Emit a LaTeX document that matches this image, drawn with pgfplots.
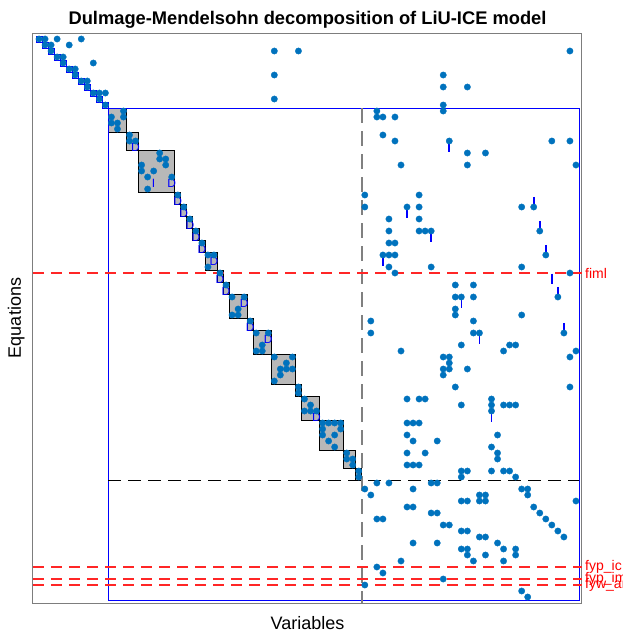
\documentclass[border=0pt]{standalone}
\usepackage{pgfplots}
\pgfplotsset{compat=1.18}
\usepackage{fontspec}
\setmainfont{Liberation Sans}
\definecolor{dotc}{RGB}{0,114,189}
\definecolor{blkfill}{RGB}{184,184,184}
\definecolor{framec}{RGB}{125,125,125}
\pgfplotstableread{
c r
0 40
91 40
}\faultA
\pgfplotstableread{
c r
0 89
91 89
}\faultB
\pgfplotstableread{
c r
0 91
91 91
}\faultC
\pgfplotstableread{
c r
0 92
91 92
}\faultD
\begin{document}
\begin{tikzpicture}[
  blk/.style={draw=black, line width=0.8pt, fill=blkfill},
  sq/.style={draw=blue, line width=0.8pt, fill=none},
  tk/.style={draw=blue, line width=1.6pt},
  dl/.style={text=blue, font=\fontsize{12}{12}\selectfont, inner sep=0pt},
  fl/.style={anchor=west, text=red, font=\fontsize{14}{14}\selectfont, inner sep=0pt},
]
\begin{axis}[
  at={(0,0)}, anchor=south west,
  width=549pt, height=570pt, scale only axis,
  xmin=0, xmax=91, ymin=0, ymax=95, y dir=reverse,
  xtick=\empty, ytick=\empty,
  axis line style={draw=framec, line width=1pt},
  clip=false,
]
% just-determined blocks
\addplot[blk] coordinates {(12.5,12.5)(15.5,12.5)(15.5,16.5)(12.5,16.5)} --cycle;
\addplot[blk] coordinates {(15.5,16.5)(17.5,16.5)(17.5,19.5)(15.5,19.5)} --cycle;
\addplot[blk] coordinates {(17.5,19.5)(23.5,19.5)(23.5,26.5)(17.5,26.5)} --cycle;
\addplot[blk] coordinates {(23.5,26.5)(24.5,26.5)(24.5,28.5)(23.5,28.5)} --cycle;
\addplot[blk] coordinates {(24.5,28.5)(25.5,28.5)(25.5,30.5)(24.5,30.5)} --cycle;
\addplot[blk] coordinates {(25.5,30.5)(26.5,30.5)(26.5,32.5)(25.5,32.5)} --cycle;
\addplot[blk] coordinates {(26.5,32.5)(27.5,32.5)(27.5,34.5)(26.5,34.5)} --cycle;
\addplot[blk] coordinates {(27.5,34.5)(28.5,34.5)(28.5,36.5)(27.5,36.5)} --cycle;
\addplot[blk] coordinates {(28.5,36.5)(30.5,36.5)(30.5,39.5)(28.5,39.5)} --cycle;
\addplot[blk] coordinates {(30.5,39.5)(31.5,39.5)(31.5,41.5)(30.5,41.5)} --cycle;
\addplot[blk] coordinates {(31.5,41.5)(32.5,41.5)(32.5,43.5)(31.5,43.5)} --cycle;
\addplot[blk] coordinates {(32.5,43.5)(35.5,43.5)(35.5,47.5)(32.5,47.5)} --cycle;
\addplot[blk] coordinates {(35.5,47.5)(36.5,47.5)(36.5,49.5)(35.5,49.5)} --cycle;
\addplot[blk] coordinates {(36.5,49.5)(39.5,49.5)(39.5,53.5)(36.5,53.5)} --cycle;
\addplot[blk] coordinates {(39.5,53.5)(43.5,53.5)(43.5,58.5)(39.5,58.5)} --cycle;
\addplot[blk] coordinates {(43.5,58.5)(44.5,58.5)(44.5,60.5)(43.5,60.5)} --cycle;
\addplot[blk] coordinates {(44.5,60.5)(47.5,60.5)(47.5,64.5)(44.5,64.5)} --cycle;
\addplot[blk] coordinates {(47.5,64.5)(51.5,64.5)(51.5,69.5)(47.5,69.5)} --cycle;
\addplot[blk] coordinates {(51.5,69.5)(53.5,69.5)(53.5,72.5)(51.5,72.5)} --cycle;
\addplot[blk] coordinates {(53.5,72.5)(54.5,72.5)(54.5,74.5)(53.5,74.5)} --cycle;
% 1x1 blocks of the upper left part
\addplot[sq] coordinates {(0.5,0.5)(1.5,0.5)(1.5,1.5)(0.5,1.5)} --cycle;
\addplot[sq] coordinates {(1.5,1.5)(2.5,1.5)(2.5,2.5)(1.5,2.5)} --cycle;
\addplot[sq] coordinates {(2.5,2.5)(3.5,2.5)(3.5,3.5)(2.5,3.5)} --cycle;
\addplot[sq] coordinates {(3.5,3.5)(4.5,3.5)(4.5,4.5)(3.5,4.5)} --cycle;
\addplot[sq] coordinates {(4.5,4.5)(5.5,4.5)(5.5,5.5)(4.5,5.5)} --cycle;
\addplot[sq] coordinates {(5.5,5.5)(6.5,5.5)(6.5,6.5)(5.5,6.5)} --cycle;
\addplot[sq] coordinates {(6.5,6.5)(7.5,6.5)(7.5,7.5)(6.5,7.5)} --cycle;
\addplot[sq] coordinates {(7.5,7.5)(8.5,7.5)(8.5,8.5)(7.5,8.5)} --cycle;
\addplot[sq] coordinates {(8.5,8.5)(9.5,8.5)(9.5,9.5)(8.5,9.5)} --cycle;
\addplot[sq] coordinates {(9.5,9.5)(10.5,9.5)(10.5,10.5)(9.5,10.5)} --cycle;
\addplot[sq] coordinates {(10.5,10.5)(11.5,10.5)(11.5,11.5)(10.5,11.5)} --cycle;
\addplot[sq] coordinates {(11.5,11.5)(12.5,11.5)(12.5,12.5)(11.5,12.5)} --cycle;
% overdetermined part frame and separators
\addplot[draw=blue, line width=0.8pt] coordinates {(12.5,12.5)(90.5,12.5)(90.5,94.5)(12.5,94.5)} --cycle;
\addplot[draw=black, line width=1pt, dash pattern=on 13pt off 7pt] coordinates {(12.5,74.5)(90.5,74.5)};
\addplot[draw=black!50, line width=1.8pt, dash pattern=on 15pt off 8pt] coordinates {(54.5,12.5)(54.5,95)};
% differential constraint markers
\addplot[tk] coordinates {(69,18)(69,19.8)};
\addplot[tk] coordinates {(62,29)(62,30.9)};
\addplot[tk] coordinates {(66,33)(66,34.9)};
\addplot[tk] coordinates {(58,37)(58,38.9)};
\addplot[tk] coordinates {(71,44)(71,45.9)};
\addplot[tk] coordinates {(74,50)(74,51.9)};
\addplot[tk] coordinates {(76,63)(76,64.9)};
\addplot[tk] coordinates {(83,27.3)(83,29)};
\addplot[tk] coordinates {(84,31.3)(84,33)};
\addplot[tk] coordinates {(85,35.3)(85,37)};
\addplot[tk] coordinates {(86,40.1)(86,41.9)};
\addplot[tk] coordinates {(87,42.3)(87,44)};
\addplot[tk] coordinates {(88,48.3)(88,50)};
% fault equations
\addplot[red!85, mark=none, line width=1.2pt, dash pattern=on 11pt off 7pt] table[x=c, y=r] {\faultA};
\addplot[red!85, mark=none, line width=1.2pt, dash pattern=on 11pt off 7pt] table[x=c, y=r] {\faultB};
\addplot[red!85, mark=none, line width=1.2pt, dash pattern=on 11pt off 7pt] table[x=c, y=r] {\faultC};
\addplot[red!85, mark=none, line width=1.2pt, dash pattern=on 11pt off 7pt] table[x=c, y=r] {\faultD};
% structure (column = variable, row = equation)
\addplot[color=dotc, only marks, mark=*, mark size=3.2pt, mark options={draw=dotc, fill=dotc, line width=0.3pt}] coordinates {
(1,1)(2,1)(4,1)(8,1)
(2,2)(3,2)(6,2)
(3,3)(40,3)(44,3)(89,3)
(4,4)(5,4)
(5,5)(10,5)
(6,6)(7,6)
(7,7)(40,7)(68,7)
(8,8)(9,8)
(9,9)(68,9)(72,9)
(10,10)(11,10)(12,10)
(11,11)(40,11)
(12,12)(68,12)
(15,13)(57,13)(68,13)
(13,14)(15,14)(57,14)(58,14)(60,14)
(13,15)(14,15)
(14,16)
(16,17)(58,17)
(16,18)(17,18)(60,18)(69,18)(86,18)(89,18)
(21,20)(72,20)(75,20)
(21,21)(22,21)
(18,22)(22,22)(61,22)(72,22)(90,22)
(18,23)(20,23)
(19,24)(23,24)
(19,26)
(24,27)(55,27)(64,27)
(25,29)(55,29)(62,29)(64,29)(81,29)(83,29)
(26,31)(59,31)(64,31)
(27,33)(59,33)(64,33)(65,33)(66,33)(84,33)
(28,35)(59,35)(60,35)
(29,37)(30,37)(58,37)(59,37)(60,37)(85,37)
(29,39)(59,39)(66,39)(81,39)
(31,40)(60,40)(89,40)
(32,42)(70,42)(73,42)
(33,44)(35,44)(70,44)(71,44)(73,44)(87,44)
(34,46)(70,46)
(33,47)(34,47)(70,47)(81,47)
(36,48)(56,48)(73,48)
(37,50)(39,50)(56,50)(73,50)(74,50)(88,50)
(38,52)(71,52)(79,52)(80,52)
(37,53)(38,53)(61,53)(78,53)(90,53)
(40,54)(43,54)(68,54)(69,54)(89,54)
(42,55)(69,55)
(41,56)(42,56)(43,56)(68,56)(69,56)(72,56)
(41,57)(68,57)
(40,58)
(44,59)(70,59)(89,59)
(44,60)
(45,61)(62,61)(64,61)(65,61)(76,61)
(46,62)(71,62)(76,62)(78,62)(79,62)(80,62)
(45,63)(46,63)(47,63)(76,63)
(48,65)(49,65)(50,65)(51,65)(62,65)(63,65)(64,65)
(48,66)(51,66)
(48,67)(50,67)(62,67)(77,67)
(49,68)(63,68)(67,68)
(50,69)(76,69)
(52,70)(62,70)(65,70)(77,70)
(52,71)(53,71)(77,71)
(53,72)(62,72)(63,72)(64,72)
(54,73)(71,73)(72,73)(76,73)(78,73)(79,73)
(54,74)(71,74)(80,74)
(57,75)(59,75)(66,75)(67,75)
(55,76)(63,76)(81,76)(82,76)
(56,77)(74,77)(75,77)(82,77)
(71,78)(72,78)(74,78)(75,78)(90,78)
(62,79)(63,79)(83,79)
(66,80)(67,80)(84,80)
(57,81)(58,81)(85,81)
(68,82)(69,82)(86,82)
(71,83)(72,83)(87,83)
(74,84)(75,84)(88,84)
(63,85)(67,85)(77,85)
(71,86)(72,86)(78,86)(80,86)
(72,87)(75,87)(80,87)
(61,88)(73,88)(78,88)
(57,89)
(58,90)
(68,91)
(55,92)
(81,93)
(82,94)
};
% D / I labels in the blocks
\node[dl] at (axis cs:17,19) {D};
\node[dl] at (axis cs:20,25) {I};
\node[dl] at (axis cs:23,25) {D};
\node[dl] at (axis cs:24,28) {D};
\node[dl] at (axis cs:25,30) {D};
\node[dl] at (axis cs:26,32) {D};
\node[dl] at (axis cs:27,34) {D};
\node[dl] at (axis cs:28,36) {D};
\node[dl] at (axis cs:30,38) {D};
\node[dl] at (axis cs:31,41) {D};
\node[dl] at (axis cs:32,43) {D};
\node[dl] at (axis cs:35,45) {D};
\node[dl] at (axis cs:36,49) {D};
\node[dl] at (axis cs:39,51) {D};
\node[dl] at (axis cs:47,64) {D};
% fault labels
\node[fl] at ([xshift=3pt]axis cs:91,40) {fiml};
\node[fl] at ([xshift=3pt]axis cs:91,89) {fyp\_ic};
\node[fl] at ([xshift=3pt]axis cs:91,91) {fyp\_im};
\node[fl] at ([xshift=3pt]axis cs:91,92) {fyw\_ar};
\end{axis}
\node[font=\fontsize{18.3}{18.3}\selectfont\bfseries, anchor=base] at (274.5pt,578pt) {Dulmage-Mendelsohn decomposition of LiU-ICE model};
\node[font=\fontsize{18}{18}\selectfont, anchor=base] at (274.5pt,-26pt) {Variables};
\node[font=\fontsize{18}{18}\selectfont, rotate=90, anchor=base] at (-12pt,285pt) {Equations};
\pgfresetboundingbox
\path (-33pt,-31pt) rectangle (590pt,603pt);
\end{tikzpicture}
\end{document}
